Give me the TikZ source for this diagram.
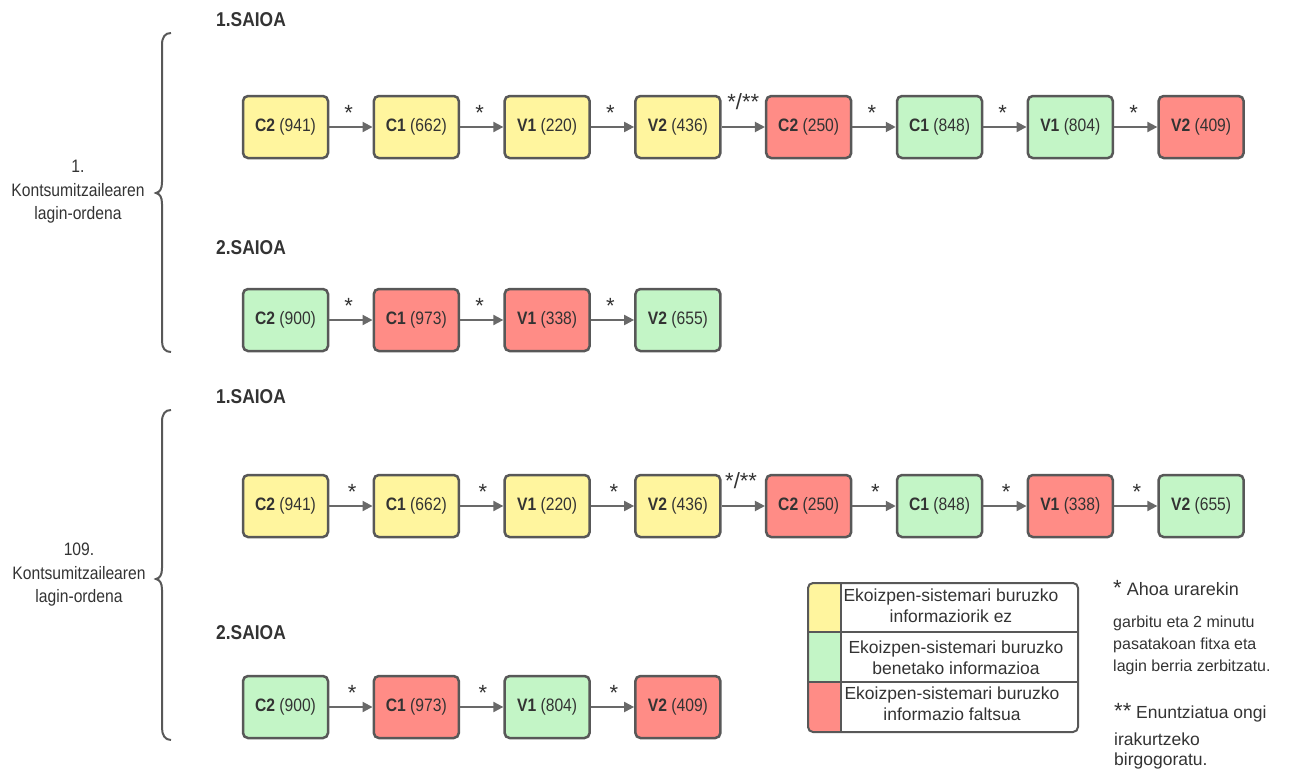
\documentclass[tikz,border=0pt]{standalone}
\usepackage{fontspec}
\setmainfont{Liberation Sans}
\newfontfamily\cond[FakeStretch=0.87]{Liberation Sans}
\usetikzlibrary{arrows.meta}
\definecolor{ylw}{RGB}{255,245,158}
\definecolor{grn}{RGB}{195,245,198}
\definecolor{rd}{RGB}{255,140,134}
\definecolor{bord}{RGB}{88,88,88}
\definecolor{arrowgray}{RGB}{105,105,105}
\definecolor{textgray}{RGB}{51,51,51}
\tikzset{
  sbox/.style={draw=bord, line width=2.5pt, rounded corners=5pt, minimum width=85pt, minimum height=62pt, inner sep=0pt, text=textgray, font=\cond\fontsize{18}{22}\selectfont},
  ybox/.style={sbox, fill=ylw},
  gbox/.style={sbox, fill=grn},
  rbox/.style={sbox, fill=rd},
  arr/.style={draw=arrowgray, line width=2pt, -{Triangle[length=10pt,width=10pt]}},
  starlbl/.style={pos=0.45, anchor=base, yshift=7pt, inner sep=0pt, text=textgray, font=\fontsize{22}{22}\selectfont},
  dstarlbl/.style={pos=0.5, anchor=base, yshift=17.5pt, inner sep=0pt, text=textgray, font=\fontsize{22}{22}\selectfont},
  saioa/.style={anchor=west, inner sep=0pt, text=textgray, font=\cond\bfseries\fontsize{20}{20}\selectfont},
  sidelbl/.style={align=center, inner sep=0pt, text=textgray, font=\cond\fontsize{18}{23.5}\selectfont},
  bracestyle/.style={draw=bord, line width=2pt},
  legline/.style={draw=bord, line width=2pt},
  legtxt/.style={align=center, inner sep=0pt, text=textgray, font=\fontsize{17.5}{21}\selectfont},
  notetxt/.style={anchor=base west, inner sep=0pt, text=textgray, font=\fontsize{16}{16}\selectfont},
  notebig/.style={notetxt, font=\fontsize{17.5}{17.5}\selectfont}
}
\begin{document}
\begin{tikzpicture}[x=1pt,y={(0pt,-1pt)}]
\useasboundingbox (0,0) rectangle (1299,771);
% braces
\draw[bracestyle] (171,33) .. controls (165,33) and (162,37) .. (162,45) -- (162,182) .. controls (162,189) and (160,192) .. (156,193) .. controls (160,194) and (162,197) .. (162,204) -- (162,341) .. controls (162,348) and (165,352) .. (171,352);
\draw[bracestyle] (171,410) .. controls (165,410) and (162,414) .. (162,422) -- (162,568) .. controls (162,575) and (160,578) .. (156,579) .. controls (160,580) and (162,583) .. (162,590) -- (162,728) .. controls (162,735) and (165,740) .. (171,740);
% side labels
\node[sidelbl] (s1) at (78,192) {1.\\Kontsumitzailearen\\lagin-ordena};
\node[sidelbl] (s2) at (79,575) {109.\\Kontsumitzailearen\\lagin-ordena};
% session labels
\node[saioa] (t1) at (216,20) {1.SAIOA};
\node[saioa] (t2) at (216,248) {2.SAIOA};
\node[saioa] (t3) at (216,397) {1.SAIOA};
\node[saioa] (t4) at (216,633) {2.SAIOA};
% row 1
\node[ybox] (r1a) at (285.5,127) {\textbf{C2} (941)};
\node[ybox] (r1b) at (416.3,127) {\textbf{C1} (662)};
\node[ybox] (r1c) at (547.1,127) {\textbf{V1} (220)};
\node[ybox] (r1d) at (677.9,127) {\textbf{V2} (436)};
\node[rbox] (r1e) at (808.7,127) {\textbf{C2} (250)};
\node[gbox] (r1f) at (939.5,127) {\textbf{C1} (848)};
\node[gbox] (r1g) at (1070.3,127) {\textbf{V1} (804)};
\node[rbox] (r1h) at (1201.1,127) {\textbf{V2} (409)};
\draw[arr] (r1a) -- node[starlbl]{*} (r1b);
\draw[arr] (r1b) -- node[starlbl]{*} (r1c);
\draw[arr] (r1c) -- node[starlbl]{*} (r1d);
\draw[arr] (r1d) -- node[dstarlbl]{*/**} (r1e);
\draw[arr] (r1e) -- node[starlbl]{*} (r1f);
\draw[arr] (r1f) -- node[starlbl]{*} (r1g);
\draw[arr] (r1g) -- node[starlbl]{*} (r1h);
% row 2
\node[gbox] (r2a) at (285.5,320) {\textbf{C2} (900)};
\node[rbox] (r2b) at (416.3,320) {\textbf{C1} (973)};
\node[rbox] (r2c) at (547.1,320) {\textbf{V1} (338)};
\node[gbox] (r2d) at (677.9,320) {\textbf{V2} (655)};
\draw[arr] (r2a) -- node[starlbl]{*} (r2b);
\draw[arr] (r2b) -- node[starlbl]{*} (r2c);
\draw[arr] (r2c) -- node[starlbl]{*} (r2d);
% row 3
\node[ybox] (r3a) at (285.5,506) {\textbf{C2} (941)};
\node[ybox] (r3b) at (416.3,506) {\textbf{C1} (662)};
\node[ybox] (r3c) at (547.1,506) {\textbf{V1} (220)};
\node[ybox] (r3d) at (677.9,506) {\textbf{V2} (436)};
\node[rbox] (r3e) at (808.7,506) {\textbf{C2} (250)};
\node[gbox] (r3f) at (939.5,506) {\textbf{C1} (848)};
\node[rbox] (r3g) at (1070.3,506) {\textbf{V1} (338)};
\node[gbox] (r3h) at (1201.1,506) {\textbf{V2} (655)};
\draw[arr] (r3a) -- node[starlbl,pos=0.53]{*} (r3b);
\draw[arr] (r3b) -- node[starlbl,pos=0.53]{*} (r3c);
\draw[arr] (r3c) -- node[starlbl,pos=0.53]{*} (r3d);
\draw[arr] (r3d) -- node[dstarlbl,pos=0.45]{*/**} (r3e);
\draw[arr] (r3e) -- node[starlbl,pos=0.53]{*} (r3f);
\draw[arr] (r3f) -- node[starlbl,pos=0.53]{*} (r3g);
\draw[arr] (r3g) -- node[starlbl,pos=0.53]{*} (r3h);
% row 4
\node[gbox] (r4a) at (285.5,707) {\textbf{C2} (900)};
\node[rbox] (r4b) at (416.3,707) {\textbf{C1} (973)};
\node[gbox] (r4c) at (547.1,707) {\textbf{V1} (804)};
\node[rbox] (r4d) at (677.9,707) {\textbf{V2} (409)};
\draw[arr] (r4a) -- node[starlbl,pos=0.53]{*} (r4b);
\draw[arr] (r4b) -- node[starlbl,pos=0.53]{*} (r4c);
\draw[arr] (r4c) -- node[starlbl,pos=0.53]{*} (r4d);
% legend
\begin{scope}
\clip[rounded corners=5pt] (808,583) rectangle (1078,732);
\fill[ylw] (808,583) rectangle (841,632);
\fill[grn] (808,632) rectangle (841,682);
\fill[rd] (808,682) rectangle (841,732);
\end{scope}
\draw[legline, rounded corners=5pt] (808,583) rectangle (1078,732);
\draw[legline] (841,583) -- (841,732) (808,632) -- (1078,632) (808,682) -- (1078,682);
\node[legtxt] (l1) at (951,606) {Ekoizpen-sistemari buruzko\\informaziorik ez};
\node[legtxt] (l2) at (956,658) {Ekoizpen-sistemari buruzko\\benetako informazioa};
\node[legtxt] (l3) at (952,704) {Ekoizpen-sistemari buruzko\\informazio faltsua};
% notes
\node[notetxt, font=\fontsize{18}{18}\selectfont] (n1) at (1113,595) {{\fontsize{22}{22}\selectfont *}~Ahoa urarekin};
\node[notetxt] (n2) at (1113,627) {garbitu eta 2 minutu};
\node[notetxt] (n3) at (1113,649) {pasatakoan fitxa eta};
\node[notetxt] (n4) at (1113,671) {lagin berria zerbitzatu.};
\node[notebig] (n5) at (1114,718) {{\fontsize{22}{22}\selectfont **}~Enuntziatua ongi};
\node[notebig] (n6) at (1114,745) {irakurtzeko};
\node[notebig] (n7) at (1114,765) {birgogoratu.};
\end{tikzpicture}
\end{document}
